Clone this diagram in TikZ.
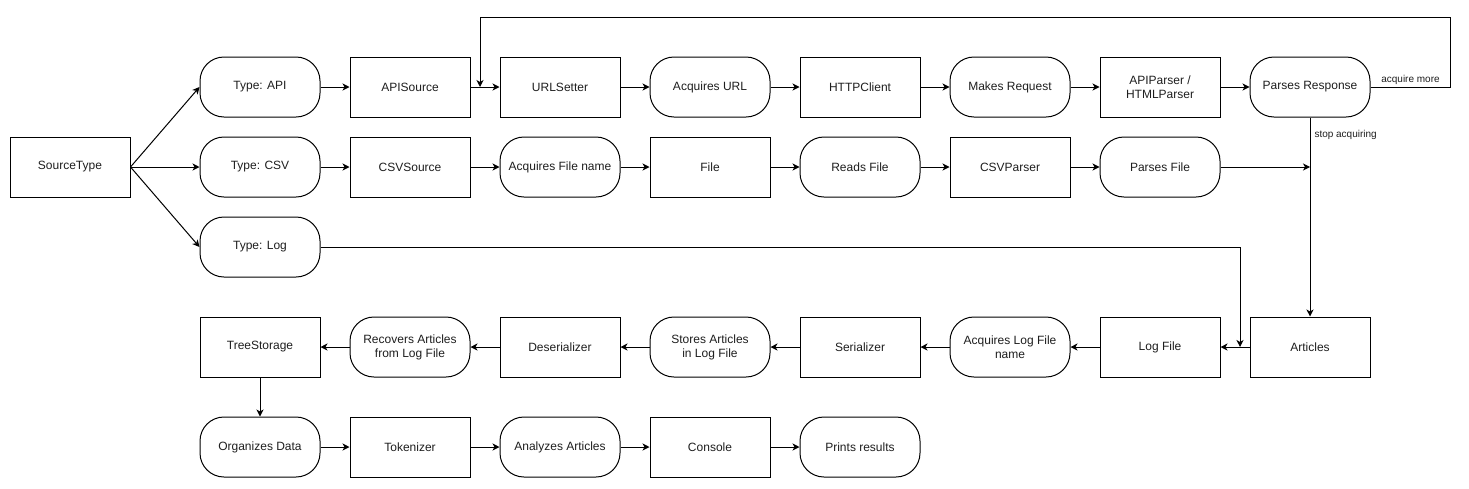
\documentclass[tikz,border=0pt]{standalone}
\usepackage{fontspec}
\setmainfont{Liberation Sans}
\usetikzlibrary{arrows.meta}
\definecolor{flowline}{RGB}{0,0,0}
\definecolor{flowtext}{RGB}{30,30,30}

\begin{document}
\begin{tikzpicture}[x=1pt,y=-1pt,
    box/.style={draw=flowline,line width=1pt,minimum width=120pt,minimum height=60pt,
        inner sep=0pt,align=center,text=flowtext,font=\fontsize{12}{14}\selectfont},
    rbox/.style={box,rounded corners=24pt},
    arr/.style={draw=flowline,line width=1pt,-{Stealth[length=7pt,width=7pt,inset=2pt]}},
    lbl/.style={font=\fontsize{10}{12}\selectfont,text=flowtext,inner sep=2pt}]
\useasboundingbox (0,0) rectangle (1469,488);

% Source type
\node[box] (src) at (70,167) {SourceType};

% Row 1: API
\foreach \x/\name/\kind/\txt in {260/api/rbox/Type: API, 410/apisrc/box/APISource,
    560/urlset/box/URLSetter, 710/acqurl/rbox/Acquires URL, 860/http/box/HTTPClient,
    1010/request/rbox/Makes Request, 1160/parser/box/{APIParser /\\HTMLParser},
    1310/parseresp/rbox/Parses Response} {
    \node[\kind] (\name) at (\x,87) {\txt};
}

% Row 2: CSV
\foreach \x/\name/\kind/\txt in {260/csv/rbox/Type: CSV, 410/csvsrc/box/CSVSource,
    560/acqfile/rbox/Acquires File name, 710/file/box/File, 860/readfile/rbox/Reads File,
    1010/csvparser/box/CSVParser, 1160/parsefile/rbox/Parses File} {
    \node[\kind] (\name) at (\x,167) {\txt};
}

% Row 3: Log
\node[rbox] (log) at (260,247) {Type: Log};

% Row 4: storage (right to left)
\foreach \x/\name/\kind/\txt in {1310/articles/box/Articles, 1160/logfile/box/Log File,
    1010/acqlog/rbox/{Acquires Log File\\name}, 860/serial/box/Serializer,
    710/store/rbox/{Stores Articles\\in Log File}, 560/deserial/box/Deserializer,
    410/recover/rbox/{Recovers Articles\\from Log File}, 260/tree/box/TreeStorage} {
    \node[\kind] (\name) at (\x,347) {\txt};
}

% Row 5: analysis
\foreach \x/\name/\kind/\txt in {260/organize/rbox/Organizes Data, 410/token/box/Tokenizer,
    560/analyze/rbox/Analyzes Articles, 710/console/box/Console, 860/prints/rbox/Prints results} {
    \node[\kind] (\name) at (\x,447) {\txt};
}

% Joins
\coordinate (loopin) at (480,87);
\coordinate (csvjoin) at (1310,167);
\coordinate (logjoin) at (1240,347);

% Branches
\foreach \t in {api,csv,log}
    \draw[arr] (src.east) -- (\t.west);

% Chains
\foreach \a/\b in {api/apisrc, apisrc/urlset, urlset/acqurl, acqurl/http, http/request,
    request/parser, parser/parseresp, csv/csvsrc, csvsrc/acqfile, acqfile/file, file/readfile,
    readfile/csvparser, csvparser/parsefile, articles/logfile, logfile/acqlog, acqlog/serial,
    serial/store, store/deserial, deserial/recover, recover/tree, tree/organize,
    organize/token, token/analyze, analyze/console, console/prints}
    \draw[arr] (\a) -- (\b);

% Loop back
\draw[arr] (parseresp.east) -- ++(80,0) node[lbl,midway,above] {acquire more}
    |- ([yshift=70pt]loopin) -- (loopin);
\draw[arr] (parseresp.south) -- (articles.north) node[lbl,pos=0.085,right,xshift=2pt] {stop acquiring};
\draw[arr] (parsefile.east) -- (csvjoin);
\draw[arr] (log.east) -| (logjoin);
\end{tikzpicture}
\end{document}
